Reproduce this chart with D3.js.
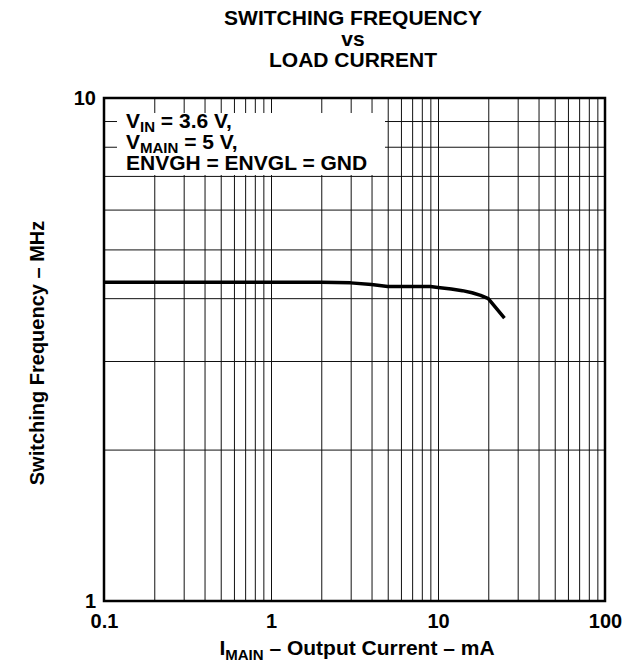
<!DOCTYPE html>
<html>
<head>
<meta charset="utf-8">
<script src="https://cdn.jsdelivr.net/npm/d3@7"></script>
<style>
  body { margin: 0; background: #fff; }
  text { font-family: Arial, "Liberation Sans", Helvetica, sans-serif; font-weight: bold; fill: #000; }
</style>
</head>
<body>
<svg></svg>
<script>
// load current (mA) and switching frequency (MHz)
var current = [0.1, 0.5, 1, 2, 3, 4, 5, 7, 9, 10, 12, 14, 16, 18, 20, 25];
var freq = [4.3, 4.3, 4.3, 4.3, 4.29, 4.26, 4.22, 4.22, 4.22, 4.2, 4.17, 4.14, 4.1, 4.05, 3.99, 3.65];
var xLabels = [0.1, 1, 10, 100];
var yLabels = [1, 10];

(function draw() {
  var width = 633, height = 663,
      pl = 104, pr = 605, pt = 98, pb = 601;

  var svg = d3.select('svg').attr('width', width).attr('height', height);

  var x = d3.scaleLog().domain([0.1, 100]).range([pl, pr]);
  var y = d3.scaleLog().domain([1, 10]).range([pb, pt]);

  // grid
  svg.append('g')
    .attr('transform', 'translate(0,' + pb + ')')
    .call(d3.axisBottom(x).ticks(20).tickSize(-(pb - pt)).tickFormat(''))
    .call(function(g){
      g.select('.domain').remove();
      g.selectAll('line').attr('stroke', '#111').attr('stroke-width', 1);
    });

  svg.append('g')
    .attr('transform', 'translate(' + pl + ',0)')
    .call(d3.axisLeft(y).ticks(10).tickSize(-(pr - pl)).tickFormat(''))
    .call(function(g){
      g.select('.domain').remove();
      g.selectAll('line').attr('stroke', '#111').attr('stroke-width', 1);
    });

  // frame
  svg.append('rect')
    .attr('x', pl).attr('y', pt)
    .attr('width', pr - pl).attr('height', pb - pt)
    .attr('fill', 'none').attr('stroke', '#000').attr('stroke-width', 2.5);

  // curve
  var line = d3.line()
    .x(function(d, i){ return x(current[i]) })
    .y(function(d, i){ return y(freq[i]) });

  svg.append('path')
    .datum(freq)
    .attr('d', line)
    .attr('fill', 'none')
    .attr('stroke', '#000')
    .attr('stroke-width', 3.5)
    .attr('stroke-linejoin', 'round');

  // note box
  svg.append('rect')
    .attr('x', 117).attr('y', 113)
    .attr('width', 268).attr('height', 62)
    .attr('fill', '#fff');

  var note = svg.append('text').attr('font-size', 21);
  var n1 = note.append('tspan').attr('x', 126).attr('y', 128);
  n1.append('tspan').text('V');
  n1.append('tspan').attr('font-size', 15).attr('dy', 4).text('IN');
  n1.append('tspan').attr('dy', -4).text(' = 3.6 V,');
  var n2 = note.append('tspan').attr('x', 126).attr('y', 149);
  n2.append('tspan').text('V');
  n2.append('tspan').attr('font-size', 15).attr('dy', 4).text('MAIN');
  n2.append('tspan').attr('dy', -4).text(' = 5 V,');
  note.append('tspan').attr('x', 126).attr('y', 170).text('ENVGH = ENVGL = GND');

  // axes labels
  svg.append('g')
    .attr('transform', 'translate(0,' + pb + ')')
    .call(d3.axisBottom(x).tickValues(xLabels).tickSize(0).tickPadding(13).tickFormat(d3.format('~g')))
    .call(function(g){
      g.select('.domain').remove();
      g.selectAll('text').attr('font-size', 20).attr('font-family', null);
    });

  svg.append('g')
    .attr('transform', 'translate(' + pl + ',0)')
    .call(d3.axisLeft(y).tickValues(yLabels).tickSize(0).tickPadding(8).tickFormat(d3.format('~g')))
    .call(function(g){
      g.select('.domain').remove();
      g.selectAll('text').attr('font-size', 20).attr('font-family', null);
    });

  // titles
  var title = svg.append('text').attr('font-size', 21).attr('text-anchor', 'middle');
  title.append('tspan').attr('x', 353).attr('y', 25).text('SWITCHING FREQUENCY');
  title.append('tspan').attr('x', 353).attr('y', 46).text('vs');
  title.append('tspan').attr('x', 353).attr('y', 67).text('LOAD CURRENT');

  var xt = svg.append('text').attr('font-size', 21).attr('text-anchor', 'middle')
    .attr('x', 357).attr('y', 655);
  xt.append('tspan').text('I');
  xt.append('tspan').attr('font-size', 15).attr('dy', 5).text('MAIN');
  xt.append('tspan').attr('dy', -5).text(' – Output Current – mA');

  svg.append('text').attr('font-size', 20).attr('text-anchor', 'middle')
    .attr('transform', 'translate(44,353) rotate(-90)')
    .text('Switching Frequency – MHz');
})();
</script>
</body>
</html>
